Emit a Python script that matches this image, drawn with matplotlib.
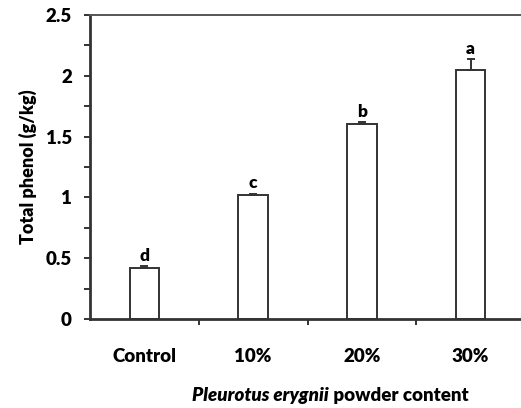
import matplotlib.pyplot as plt
import numpy as np

# data
categories = ["Control", "10%", "20%", "30%"]
phenol = [0.42, 1.02, 1.60, 2.05]
errors = [0.015, 0.012, 0.02, 0.085]
letters = ["d", "c", "b", "a"]

plt.rcParams['font.family'] = ['Lato', 'DejaVu Sans']

fig = plt.figure(figsize=(5.21, 4.08), dpi=100)
W, H = 521, 408
ax = fig.add_axes([90 / W, (H - 319) / H, (525 - 90) / W, (319 - 15) / H])

x = np.arange(len(categories))
# only the upper half of the error bar is shown, like in the reference
yerr = [np.zeros(len(errors)), errors]
ax.bar(x, phenol, width=0.27, color="white", edgecolor="#333333", linewidth=1.4,
       yerr=yerr, error_kw=dict(ecolor="#333333", elinewidth=1.4, capsize=3, capthick=1.4))

for xi, v, e, lab in zip(x, phenol, errors, letters):
    ax.text(xi, v + e + 0.02, lab, ha="center", va="bottom", fontsize=12.5, fontweight="heavy")

ax.set_xlim(-0.5, 3.5)
ax.set_ylim(0, 2.5)
ax.set_yticks(np.arange(0, 2.51, 0.5))
ax.set_yticklabels(["0", "0.5", "1", "1.5", "2", "2.5"])
ax.set_yticks(np.arange(0.25, 2.5, 0.5), minor=True)
ax.set_xticks([0.5, 1.5, 2.5, 3.5])
ax.set_xticklabels([])
ax.set_xticks(x, minor=True)
ax.set_xticklabels(categories, minor=True)
ax.tick_params(axis="x", which="minor", length=0, pad=21)
ax.tick_params(axis="x", which="major", length=4, width=1.4, color="#333333")
ax.tick_params(axis="y", which="both", length=4, width=1.4, color="#333333", pad=9)
for lbl in ax.get_xticklabels(minor=True) + ax.get_yticklabels():
    lbl.set_fontsize(13.5)
    lbl.set_fontweight("heavy")

for s in ["left", "bottom"]:
    ax.spines[s].set_linewidth(2)
    ax.spines[s].set_color("#333333")
ax.spines["top"].set_linewidth(1.4)
ax.spines["top"].set_color("#555555")
ax.spines["right"].set_visible(False)

ax.set_ylabel("Total phenol (g/kg)", fontsize=13, fontweight="heavy", labelpad=6)

# mixed style x label, centred around x=330 px
ylab = (H - 395) / H
t1 = fig.text(0, ylab, "Pleurotus erygnii", ha="left", va="center",
              fontsize=13.5, fontweight="heavy", fontstyle="italic")
t2 = fig.text(0, ylab, " powder content", ha="left", va="center",
              fontsize=13.5, fontweight="heavy")
fig.canvas.draw()
r = fig.canvas.get_renderer()
w1 = t1.get_window_extent(r).width
w2 = t2.get_window_extent(r).width
x0 = 330 - (w1 + w2) / 2
t1.set_x(x0 / W)
t2.set_x((x0 + w1) / W)

plt.savefig("out.png", dpi=100)
